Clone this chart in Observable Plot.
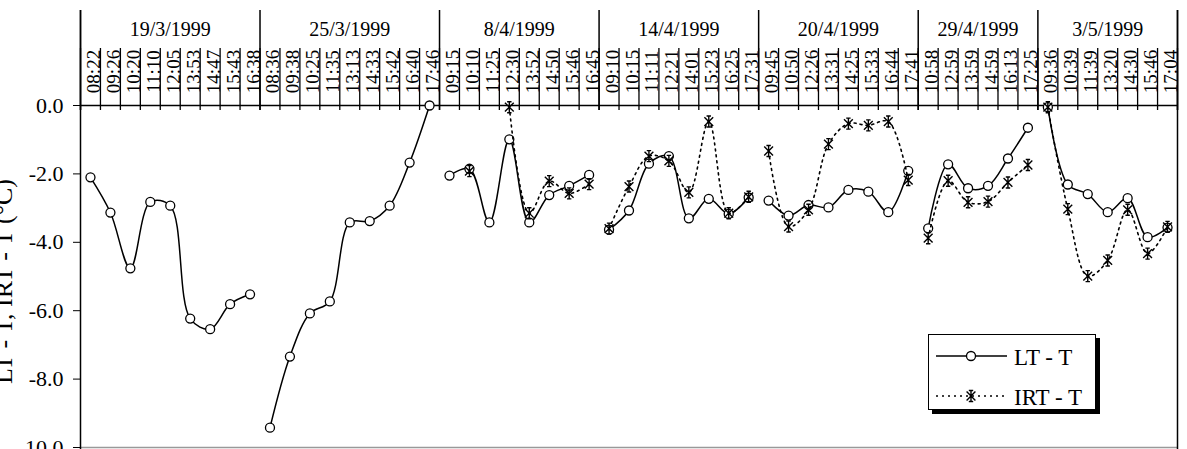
<!DOCTYPE html>
<html><head><meta charset="utf-8">
<script src="https://cdn.jsdelivr.net/npm/d3@7"></script>
<script src="https://cdn.jsdelivr.net/npm/@observablehq/plot@0.6"></script>
<style>
body{margin:0;background:#fff;}
#wrap{position:relative;width:1187px;height:449px;overflow:hidden;background:#fff;}
#legend{position:absolute;left:928px;top:334px;width:166px;height:74px;border:1.5px solid #000;box-shadow:4px 4px 0 #000;background:#fff;}
</style></head><body><div id="wrap"></div>
<script>
// ---- data ----
const dates = ["19/3/1999","25/3/1999","8/4/1999","14/4/1999","20/4/1999","29/4/1999","3/5/1999"];
const times = [
 ["08:22","09:26","10:20","11:10","12:05","13:53","14:47","15:43","16:38"],
 ["08:36","09:38","10:25","11:35","13:13","14:33","15:42","16:40","17:46"],
 ["09:15","10:10","11:25","12:30","13:52","14:50","15:46","16:45"],
 ["09:10","10:15","11:11","12:21","14:01","15:23","16:25","17:31"],
 ["09:45","10:50","12:26","13:31","14:25","15:33","16:44","17:41"],
 ["10:58","12:59","13:59","14:59","16:13","17:25"],
 ["09:36","10:39","11:39","13:20","14:30","15:46","17:04"]
];
const ltMinusT = [
 [-2.10,-3.13,-4.76,-2.82,-2.93,-6.23,-6.54,-5.81,-5.52],
 [-9.42,-7.34,-6.08,-5.73,-3.42,-3.38,-2.93,-1.67,0.00],
 [-2.05,-1.85,-3.42,-0.99,-3.42,-2.62,-2.35,-2.03],
 [-3.63,-3.07,-1.70,-1.48,-3.30,-2.73,-3.17,-2.69],
 [-2.78,-3.22,-2.91,-2.98,-2.47,-2.52,-3.12,-1.91],
 [-3.59,-1.72,-2.42,-2.35,-1.55,-0.65],
 [-0.05,-2.31,-2.59,-3.12,-2.71,-3.85,-3.57]
];
const irtMinusT = [
 [null,null,null,null,null,null,null,null,null],
 [null,null,null,null,null,null,null,null,null],
 [null,-1.92,null,-0.05,-3.15,-2.21,-2.57,-2.30],
 [-3.60,-2.37,-1.48,-1.62,-2.54,-0.47,-3.15,-2.67],
 [-1.33,-3.54,-3.05,-1.13,-0.53,-0.58,-0.47,-2.18],
 [-3.88,-2.20,-2.83,-2.81,-2.25,-1.74],
 [-0.05,-3.03,-4.99,-4.53,-3.05,-4.33,-3.55]
];
const yTicks = [-10,-8,-6,-4,-2,0];
const yTitle = "LT - T, IRT - T (°C)";
const seriesNames = ["LT - T","IRT - T"];

// ---- tables ----
const rows = [];
const groups = [];
let k = 0;
dates.forEach((d, di) => {
  const start = k;
  times[di].forEach((t, j) => {
    rows.push({pos: k + 0.5, date: d, time: t, lt: ltMinusT[di][j], irt: irtMinusT[di][j]});
    k++;
  });
  groups.push({date: d, start, end: k, center: (start + k) / 2});
});
const n = k;
const colBounds = d3.range(0, n + 1);
const dateBounds = groups.map(g => g.start).concat([n]);

const starSym = {
  draw(ctx, size) {
    const r = Math.sqrt(size / Math.PI);
    const a = r * 0.8;
    ctx.moveTo(0, -r); ctx.lineTo(0, r);
    ctx.moveTo(-a, -a); ctx.lineTo(a, a);
    ctx.moveTo(-a, a); ctx.lineTo(a, -a);
    ctx.moveTo(-a * 0.5, -r); ctx.lineTo(a * 0.5, -r);
    ctx.moveTo(-a * 0.5, r); ctx.lineTo(a * 0.5, r);
  }
};

const font = '"Liberation Serif", "Times New Roman", serif';
const chart = Plot.plot({
  width: 1187, height: 449,
  marginLeft: 80, marginRight: 10, marginTop: 105, marginBottom: 2,
  style: {fontFamily: font, fontSize: "22px", background: "white", color: "black"},
  x: {domain: [0, n], axis: null},
  y: {domain: [-10, 0], ticks: yTicks, tickFormat: d => d.toFixed(1), tickSize: 7, tickPadding: 10, label: null},
  marks: [
    Plot.ruleY([-10], {stroke: "#999", strokeWidth: 1.5}),
    Plot.ruleX(colBounds, {x: d => d, insetTop: -57, insetBottom: 337, stroke: "black", strokeWidth: 1.3}),
    Plot.ruleX(dateBounds, {x: d => d, insetTop: -95, insetBottom: 337, stroke: "black", strokeWidth: 1.5}),
    Plot.ruleX([0, n], {x: d => d, insetTop: -95, insetBottom: -2, stroke: "black", strokeWidth: 1.5}),
    Plot.ruleY([0], {stroke: "black", strokeWidth: 1.5}),
    Plot.text(rows, {x: "pos", text: "time", frameAnchor: "top", dx: -4, dy: -34, rotate: -90, fontSize: 19, fill: "black"}),
    Plot.text(groups, {x: "center", text: "date", frameAnchor: "top", dy: -84, fontSize: 20, fill: "black"}),
    Plot.text([yTitle], {x: () => 0, y: () => -5, text: d => d, dx: -77, dy: 5, rotate: -90, fontSize: 26, fill: "black"}),
    Plot.line(rows, {x: "pos", y: "lt", z: "date", curve: "catmull-rom", stroke: "black", strokeWidth: 1.5}),
    Plot.dot(rows, {x: "pos", y: "lt", r: 4.5, fill: "white", stroke: "black", strokeWidth: 1.3}),
    Plot.line(rows, {x: "pos", y: "irt", z: "date", curve: "catmull-rom", stroke: "black", strokeWidth: 1.6, strokeDasharray: "2,4"}),
    Plot.dot(rows.filter(d => d.irt != null), {x: "pos", y: "irt", r: 5.5, symbol: starSym, stroke: "black", strokeWidth: 1.4})
  ]
});
const wrap = document.getElementById("wrap");
wrap.appendChild(chart);

// legend
const leg = document.createElement("div");
leg.id = "legend";
wrap.appendChild(leg);
const ls = d3.select(leg).append("svg").attr("width", 166).attr("height", 74)
  .style("font-family", font).style("font-size", "23px");
ls.append("line").attr("x1", 7).attr("x2", 78).attr("y1", 21).attr("y2", 21).attr("stroke", "black").attr("stroke-width", 1.5);
ls.append("circle").attr("cx", 42).attr("cy", 21).attr("r", 4.5).attr("fill", "white").attr("stroke", "black").attr("stroke-width", 1.3);
ls.append("text").attr("x", 85).attr("y", 30).text(seriesNames[0]);
ls.append("line").attr("x1", 7).attr("x2", 78).attr("y1", 61).attr("y2", 61).attr("stroke", "black").attr("stroke-width", 1.6).attr("stroke-dasharray", "2,4");
const p = d3.path(); starSym.draw(p, Math.PI * 5.5 * 5.5);
ls.append("path").attr("transform", "translate(42,61)").attr("d", p.toString()).attr("fill", "none").attr("stroke", "black").attr("stroke-width", 1.4);
ls.append("text").attr("x", 85).attr("y", 70).text(seriesNames[1]);
</script></body></html>
